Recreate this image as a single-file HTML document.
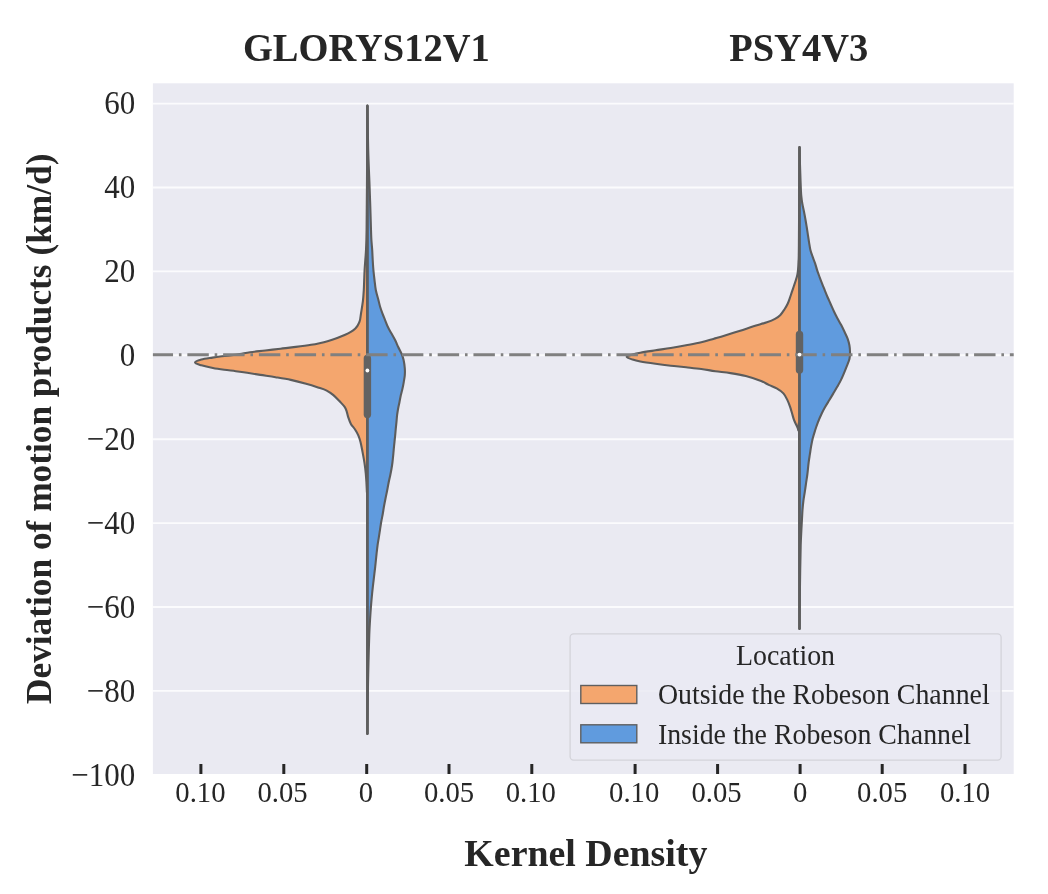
<!DOCTYPE html>
<html><head><meta charset="utf-8"><style>
html,body{margin:0;padding:0;background:#fff;width:1048px;height:894px;overflow:hidden}
svg{display:block;will-change:transform}
text{font-family:"Liberation Serif",serif}
.tk{font-size:31px;fill:#262626}
.xt{font-size:28.7px;fill:#262626}
.tt{font-size:38.5px;font-weight:bold;fill:#262626}
</style></head><body>
<svg width="1048" height="894" viewBox="0 0 1048 894">
<rect x="0" y="0" width="1048" height="894" fill="#fff"/>
<!-- plot area -->
<rect x="152.9" y="83.3" width="860.8" height="690.7" fill="#eaeaf2"/>
<!-- gridlines -->
<g stroke="#fbfbfd" stroke-width="1.9">
<line x1="152.9" x2="1013.7" y1="103.6" y2="103.6"/>
<line x1="152.9" x2="1013.7" y1="187.5" y2="187.5"/>
<line x1="152.9" x2="1013.7" y1="271.4" y2="271.4"/>
<line x1="152.9" x2="1013.7" y1="355.3" y2="355.3"/>
<line x1="152.9" x2="1013.7" y1="439.2" y2="439.2"/>
<line x1="152.9" x2="1013.7" y1="523.1" y2="523.1"/>
<line x1="152.9" x2="1013.7" y1="607.0" y2="607.0"/>
<line x1="152.9" x2="1013.7" y1="690.9" y2="690.9"/>
</g>
<!-- VIOLINS -->
<g stroke="#5c5c5c" stroke-width="2.1" stroke-linejoin="round">
<path fill="#f4a66e" d="M367.40,105.50 C367.33,117.92 367.13,159.25 367.00,180.00 C366.87,200.75 366.77,218.33 366.60,230.00 C366.43,241.67 366.22,245.00 366.00,250.00 C365.78,255.00 365.53,256.67 365.30,260.00 C365.07,263.33 364.78,266.67 364.60,270.00 C364.42,273.33 364.33,276.67 364.20,280.00 C364.07,283.33 364.02,286.47 363.80,290.00 C363.58,293.53 363.37,297.28 362.90,301.20 C362.43,305.12 361.47,310.43 361.00,313.50 C360.53,316.57 360.42,318.07 360.10,319.60 C359.78,321.13 359.53,321.67 359.10,322.70 C358.67,323.73 358.17,324.78 357.50,325.80 C356.83,326.82 356.22,327.78 355.10,328.80 C353.98,329.82 352.55,330.87 350.80,331.90 C349.05,332.93 346.87,333.98 344.60,335.00 C342.33,336.02 340.05,336.97 337.20,338.00 C334.35,339.03 330.45,340.33 327.50,341.20 C324.55,342.07 322.23,342.60 319.50,343.20 C316.77,343.80 315.05,344.18 311.10,344.80 C307.15,345.42 300.90,346.25 295.80,346.90 C290.70,347.55 285.58,348.10 280.50,348.70 C275.42,349.30 270.38,349.92 265.30,350.50 C260.22,351.08 254.22,351.62 250.00,352.20 C245.78,352.78 243.33,353.47 240.00,354.00 C236.67,354.53 233.33,354.98 230.00,355.40 C226.67,355.82 222.92,356.13 220.00,356.50 C217.08,356.87 215.60,357.10 212.50,357.60 C209.40,358.10 204.32,358.67 201.40,359.50 C198.48,360.33 195.00,361.63 195.00,362.60 C195.00,363.57 198.42,364.40 201.40,365.30 C204.38,366.20 209.08,367.25 212.90,368.00 C216.72,368.75 220.48,369.27 224.30,369.80 C228.12,370.33 231.98,370.70 235.80,371.20 C239.62,371.70 243.12,372.18 247.20,372.80 C251.28,373.42 255.58,374.17 260.30,374.90 C265.02,375.63 270.42,376.37 275.50,377.20 C280.58,378.03 285.70,378.82 290.80,379.90 C295.90,380.98 301.57,382.45 306.10,383.70 C310.63,384.95 314.57,386.25 318.00,387.40 C321.43,388.55 324.13,389.32 326.70,390.60 C329.27,391.88 331.17,393.23 333.40,395.10 C335.63,396.97 338.20,399.80 340.10,401.80 C342.00,403.80 343.68,405.43 344.80,407.10 C345.92,408.77 346.23,410.12 346.80,411.80 C347.37,413.48 347.52,415.18 348.20,417.20 C348.88,419.22 349.78,421.88 350.90,423.90 C352.02,425.92 353.67,427.40 354.90,429.30 C356.13,431.20 357.37,433.18 358.30,435.30 C359.23,437.42 359.82,439.35 360.50,442.00 C361.18,444.65 361.75,447.80 362.40,451.20 C363.05,454.60 363.83,458.67 364.40,462.40 C364.97,466.13 365.40,469.00 365.80,473.60 C366.20,478.20 366.55,482.27 366.80,490.00 C367.05,497.73 367.20,479.33 367.30,520.00 C367.40,560.67 367.38,698.33 367.40,734.00 L367.40,105.50 Z"/>
<path fill="#609bde" d="M367.40,105.50 C367.53,112.92 367.83,136.42 368.20,150.00 C368.57,163.58 369.25,177.50 369.60,187.00 C369.95,196.50 370.08,200.33 370.30,207.00 C370.52,213.67 370.72,221.50 370.90,227.00 C371.08,232.50 371.18,236.17 371.40,240.00 C371.62,243.83 371.98,246.67 372.20,250.00 C372.42,253.33 372.50,256.67 372.70,260.00 C372.90,263.33 373.10,266.67 373.40,270.00 C373.70,273.33 374.10,276.67 374.50,280.00 C374.90,283.33 375.15,286.67 375.80,290.00 C376.45,293.33 377.68,297.22 378.40,300.00 C379.12,302.78 379.43,304.47 380.10,306.70 C380.77,308.93 381.57,311.17 382.40,313.40 C383.23,315.63 384.20,317.87 385.10,320.10 C386.00,322.33 386.73,324.55 387.80,326.80 C388.87,329.05 390.27,331.35 391.50,333.60 C392.73,335.85 394.08,338.07 395.20,340.30 C396.32,342.53 397.15,344.77 398.20,347.00 C399.25,349.23 400.60,351.53 401.50,353.70 C402.40,355.87 403.05,357.55 403.60,360.00 C404.15,362.45 404.60,365.88 404.80,368.40 C405.00,370.92 404.97,372.87 404.80,375.10 C404.63,377.33 404.18,379.55 403.80,381.80 C403.42,384.05 403.00,386.35 402.50,388.60 C402.00,390.85 401.30,393.07 400.80,395.30 C400.30,397.53 399.95,399.77 399.50,402.00 C399.05,404.23 398.50,406.53 398.10,408.70 C397.70,410.87 397.37,412.83 397.10,415.00 C396.83,417.17 396.72,419.47 396.50,421.70 C396.28,423.93 396.02,426.17 395.80,428.40 C395.58,430.63 395.42,432.87 395.20,435.10 C394.98,437.33 394.73,439.55 394.50,441.80 C394.27,444.05 394.02,446.35 393.80,448.60 C393.58,450.85 393.42,453.07 393.20,455.30 C392.98,457.53 392.78,459.77 392.50,462.00 C392.22,464.23 391.87,466.53 391.50,468.70 C391.13,470.87 390.78,472.65 390.30,475.00 C389.82,477.35 389.13,480.18 388.60,482.80 C388.07,485.42 387.62,488.08 387.10,490.70 C386.58,493.32 386.02,495.90 385.50,498.50 C384.98,501.10 384.47,503.68 384.00,506.30 C383.53,508.92 383.17,511.58 382.70,514.20 C382.23,516.82 381.65,519.40 381.20,522.00 C380.75,524.60 380.40,527.20 380.00,529.80 C379.60,532.40 379.20,535.07 378.80,537.60 C378.40,540.13 377.97,542.37 377.60,545.00 C377.23,547.63 377.00,549.77 376.60,553.40 C376.20,557.03 375.70,562.32 375.20,566.80 C374.70,571.28 374.12,575.82 373.60,580.30 C373.08,584.78 372.55,589.23 372.10,593.70 C371.65,598.17 371.25,602.63 370.90,607.10 C370.55,611.57 370.27,616.02 370.00,620.50 C369.73,624.98 369.50,629.08 369.30,634.00 C369.10,638.92 368.97,644.00 368.80,650.00 C368.63,656.00 368.45,663.33 368.30,670.00 C368.15,676.67 368.05,679.33 367.90,690.00 C367.75,700.67 367.48,726.67 367.40,734.00 L367.40,105.50 Z"/>
<path fill="#f4a66e" d="M799.50,147.00 C799.40,163.33 799.07,225.83 798.90,245.00 C798.73,264.17 798.65,257.83 798.50,262.00 C798.35,266.17 798.20,267.83 798.00,270.00 C797.80,272.17 797.65,273.33 797.30,275.00 C796.95,276.67 796.47,278.17 795.90,280.00 C795.33,281.83 794.58,283.98 793.90,286.00 C793.22,288.02 792.48,290.08 791.80,292.10 C791.12,294.12 790.47,296.20 789.80,298.10 C789.13,300.00 788.70,301.60 787.80,303.50 C786.90,305.40 785.63,307.60 784.40,309.50 C783.17,311.40 781.97,313.33 780.40,314.90 C778.83,316.47 777.25,317.67 775.00,318.90 C772.75,320.13 770.48,321.07 766.90,322.30 C763.32,323.53 757.95,324.90 753.50,326.30 C749.05,327.70 744.95,329.17 740.20,330.70 C735.45,332.23 729.37,334.17 725.00,335.50 C720.63,336.83 717.95,337.57 714.00,338.70 C710.05,339.83 705.95,341.20 701.30,342.30 C696.65,343.40 691.18,344.35 686.10,345.30 C681.02,346.25 675.90,347.17 670.80,348.00 C665.70,348.83 660.58,349.52 655.50,350.30 C650.42,351.08 644.12,352.00 640.30,352.70 C636.48,353.40 634.88,353.82 632.60,354.50 C630.32,355.18 626.60,355.95 626.60,356.80 C626.60,357.65 630.32,358.82 632.60,359.60 C634.88,360.38 636.48,360.80 640.30,361.50 C644.12,362.20 650.42,363.10 655.50,363.80 C660.58,364.50 665.70,365.12 670.80,365.70 C675.90,366.28 681.02,366.75 686.10,367.30 C691.18,367.85 696.43,368.35 701.30,369.00 C706.17,369.65 710.43,370.52 715.30,371.20 C720.17,371.88 725.42,372.28 730.50,373.10 C735.58,373.92 740.70,374.77 745.80,376.10 C750.90,377.43 757.28,379.63 761.10,381.10 C764.92,382.57 766.10,383.68 768.70,384.90 C771.30,386.12 774.25,386.98 776.70,388.40 C779.15,389.82 781.62,391.45 783.40,393.40 C785.18,395.35 786.28,397.87 787.40,400.10 C788.52,402.33 789.32,404.57 790.10,406.80 C790.88,409.03 791.43,411.27 792.10,413.50 C792.77,415.73 793.35,418.18 794.10,420.20 C794.85,422.22 795.90,423.92 796.60,425.60 C797.30,427.28 797.88,427.90 798.30,430.30 C798.72,432.70 798.90,406.88 799.10,440.00 C799.30,473.12 799.43,597.50 799.50,629.00 L799.50,147.00 Z"/>
<path fill="#609bde" d="M799.50,147.00 C799.58,150.00 799.83,159.50 800.00,165.00 C800.17,170.50 800.35,175.83 800.50,180.00 C800.65,184.17 800.77,187.33 800.90,190.00 C801.03,192.67 801.07,193.75 801.30,196.00 C801.53,198.25 801.87,200.95 802.30,203.50 C802.73,206.05 803.38,208.68 803.90,211.30 C804.42,213.92 804.93,216.58 805.40,219.20 C805.87,221.82 806.28,224.40 806.70,227.00 C807.12,229.60 807.50,232.20 807.90,234.80 C808.30,237.40 808.68,240.07 809.10,242.60 C809.52,245.13 809.82,247.65 810.40,250.00 C810.98,252.35 811.82,254.47 812.60,256.70 C813.38,258.93 814.35,261.17 815.10,263.40 C815.85,265.63 816.37,267.87 817.10,270.10 C817.83,272.33 818.67,274.55 819.50,276.80 C820.33,279.05 821.22,281.35 822.10,283.60 C822.98,285.85 823.90,288.07 824.80,290.30 C825.70,292.53 826.55,294.77 827.50,297.00 C828.45,299.23 829.40,301.25 830.50,303.70 C831.60,306.15 832.93,309.25 834.10,311.70 C835.27,314.15 836.32,316.17 837.50,318.40 C838.68,320.63 840.03,322.87 841.20,325.10 C842.37,327.33 843.43,329.55 844.50,331.80 C845.57,334.05 846.78,336.35 847.60,338.60 C848.42,340.85 849.00,343.07 849.40,345.30 C849.80,347.53 849.98,349.77 850.00,352.00 C850.02,354.23 850.07,356.25 849.50,358.70 C848.93,361.15 847.53,364.25 846.60,366.70 C845.67,369.15 844.85,371.17 843.90,373.40 C842.95,375.63 842.02,377.87 840.90,380.10 C839.78,382.33 838.48,384.55 837.20,386.80 C835.92,389.05 834.53,391.35 833.20,393.60 C831.87,395.85 830.55,398.07 829.20,400.30 C827.85,402.53 826.37,404.77 825.10,407.00 C823.83,409.23 822.83,411.07 821.60,413.70 C820.37,416.33 818.80,419.97 817.70,422.80 C816.60,425.63 815.83,428.08 815.00,430.70 C814.17,433.32 813.35,435.90 812.70,438.50 C812.05,441.10 811.57,443.68 811.10,446.30 C810.63,448.92 810.30,451.58 809.90,454.20 C809.50,456.82 809.12,458.70 808.70,462.00 C808.28,465.30 807.83,470.52 807.40,474.00 C806.97,477.48 806.53,479.92 806.10,482.90 C805.67,485.88 805.25,488.92 804.80,491.90 C804.35,494.88 803.78,497.82 803.40,500.80 C803.02,503.78 802.73,506.82 802.50,509.80 C802.27,512.78 802.17,515.72 802.00,518.70 C801.83,521.68 801.72,523.32 801.50,527.70 C801.28,532.08 800.92,537.95 800.70,545.00 C800.48,552.05 800.35,560.83 800.20,570.00 C800.05,579.17 799.92,590.17 799.80,600.00 C799.68,609.83 799.55,624.17 799.50,629.00 L799.50,147.00 Z"/>
</g>
<g stroke="#5e5e5e" stroke-width="2.5" stroke-linecap="round">
<line x1="367.4" x2="367.4" y1="106.3" y2="733.2"/>
<line x1="799.5" x2="799.5" y1="147.8" y2="628.3"/>
</g>
<g stroke="#626262" stroke-width="7.4" stroke-linecap="round">
<line x1="367.4" x2="367.4" y1="358.4" y2="414.4"/>
<line x1="799.5" x2="799.5" y1="334.4" y2="370"/>
</g>
<!-- zero line -->
<line x1="152.9" x2="1013.7" y1="354.8" y2="354.8" stroke="#808080" stroke-width="3" stroke-dasharray="21.45 5.85 2.6 5.86" stroke-dashoffset="1.3"/>
<!-- DOTS -->
<g fill="#fff"><circle cx="367.4" cy="370.5" r="1.9"/><circle cx="799.5" cy="354.6" r="1.9"/></g>
<!-- ENDDOTS -->
<!-- ticks -->
<g stroke="#262626" stroke-width="3">
<line x1="200.9" x2="200.9" y1="764" y2="774"/>
<line x1="283.8" x2="283.8" y1="764" y2="774"/>
<line x1="366.7" x2="366.7" y1="764" y2="774"/>
<line x1="449.0" x2="449.0" y1="764" y2="774"/>
<line x1="531.8" x2="531.8" y1="764" y2="774"/>
<line x1="635.1" x2="635.1" y1="764" y2="774"/>
<line x1="717.6" x2="717.6" y1="764" y2="774"/>
<line x1="800.1" x2="800.1" y1="764" y2="774"/>
<line x1="882.2" x2="882.2" y1="764" y2="774"/>
<line x1="965.0" x2="965.0" y1="764" y2="774"/>
</g>
<!-- LEGEND -->
<rect x="570.1" y="633.9" width="431.0" height="126.2" rx="3.5" ry="3.5" fill="#eaeaf2" fill-opacity="0.8" stroke="#d3d3da" stroke-width="1.3"/>
<rect x="580.8" y="685.5" width="56" height="18" fill="#f4a66e" stroke="#5f5f5f" stroke-width="1.4"/>
<rect x="580.8" y="724.8" width="56" height="18" fill="#609bde" stroke="#5f5f5f" stroke-width="1.4"/>
<g font-size="27.85" fill="#262626">
<text transform="translate(785.5,664.9) scale(1,1.04)" text-anchor="middle">Location</text>
<text transform="translate(657.9,703.8) scale(1,1.04)">Outside the Robeson Channel</text>
<text transform="translate(657.9,743.9) scale(1,1.04)">Inside the Robeson Channel</text>
</g>
<!-- y tick labels -->
<g class="tk" text-anchor="end">
<text transform="translate(135.3,114.2) scale(1,1.07)">60</text>
<text transform="translate(135.3,198.2) scale(1,1.07)">40</text>
<text transform="translate(135.3,282.1) scale(1,1.07)">20</text>
<text transform="translate(135.3,365.9) scale(1,1.07)">0</text>
<text transform="translate(135.3,449.9) scale(1,1.07)">−20</text>
<text transform="translate(135.3,533.8) scale(1,1.07)">−40</text>
<text transform="translate(135.3,617.6) scale(1,1.07)">−60</text>
<text transform="translate(135.3,701.5) scale(1,1.07)">−80</text>
<text transform="translate(135.3,785.5) scale(1,1.07)">−100</text>
</g>
<!-- x tick labels -->
<g class="xt" text-anchor="middle">
<text transform="translate(200.4,801.9) scale(1,1.055)">0.10</text>
<text transform="translate(282.6,801.9) scale(1,1.055)">0.05</text>
<text transform="translate(365.9,801.9) scale(1,1.055)">0</text>
<text transform="translate(449.0,801.9) scale(1,1.055)">0.05</text>
<text transform="translate(530.8,801.9) scale(1,1.055)">0.10</text>
<text transform="translate(634.2,801.9) scale(1,1.055)">0.10</text>
<text transform="translate(716.6,801.9) scale(1,1.055)">0.05</text>
<text transform="translate(800.1,801.9) scale(1,1.055)">0</text>
<text transform="translate(882.2,801.9) scale(1,1.055)">0.05</text>
<text transform="translate(965.0,801.9) scale(1,1.055)">0.10</text>
</g>
<!-- titles -->
<text class="tt" transform="translate(366.3,61) scale(1,1.05)" text-anchor="middle">GLORYS12V1</text>
<text class="tt" transform="translate(798.7,61) scale(1,1.04)" text-anchor="middle">PSY4V3</text>
<text class="tt" x="585.9" y="866.4" text-anchor="middle" style="font-size:37.9px">Kernel Density</text>
<text class="tt" style="font-size:35.3px" transform="translate(50.5,428.8) rotate(-90)" text-anchor="middle">Deviation of motion products (km/d)</text>
</svg>
</body></html>
